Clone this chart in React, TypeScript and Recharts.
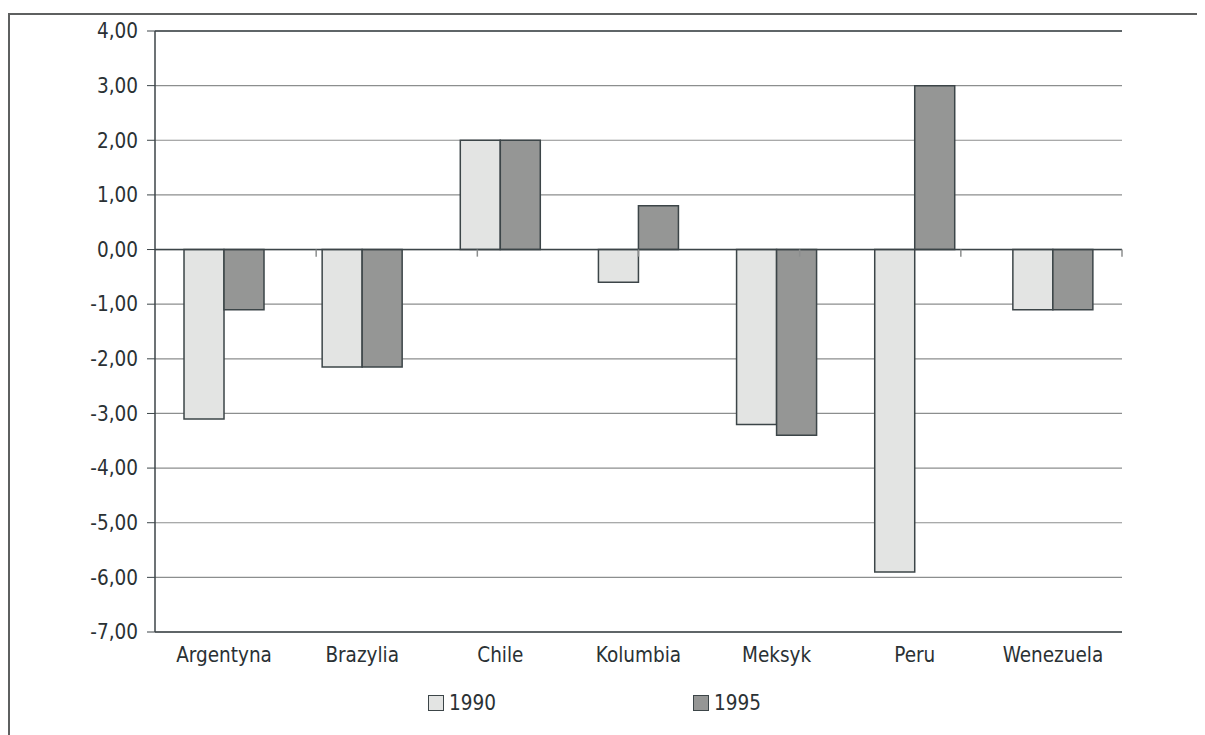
import React from "react"
import {
  BarChart, Bar, XAxis, YAxis, CartesianGrid, ReferenceLine,
} from "recharts"

const countries = ["Argentyna", "Brazylia", "Chile", "Kolumbia", "Meksyk", "Peru", "Wenezuela"]
const values1990 = [-3.1, -2.15, 2.0, -0.6, -3.2, -5.9, -1.1]
const values1995 = [-1.1, -2.15, 2.0, 0.8, -3.4, 3.0, -1.1]
const yTicks = [-7, -6, -5, -4, -3, -2, -1, 0, 1, 2, 3, 4]
const boundaryTicks = [1, 2, 3, 4, 5, 6, 7]

const series = [
  { key: "y1990", name: "1990", color: "#e3e4e3" },
  { key: "y1995", name: "1995", color: "#959695" },
]

const data = countries.map((c, i) => ({
  country: c,
  y1990: values1990[i],
  y1995: values1995[i],
}))

const FONT = "'DejaVu Sans Condensed', 'DejaVu Sans', sans-serif"
const TEXT = "#2a3134"
const DARK = "#3c4548"
const GRID = "#8c8e8e"
const FS = 20.5

function fmt(v: number): string {
  return v.toFixed(2).replace(".", ",")
}

export default function App() {
  return (
    <div style={{ position: "relative", width: 1189, height: 727, fontFamily: FONT }}>
      <style>{"html,body{overflow:hidden}"}</style>
      <div
        style={{
          position: "absolute", left: 0, top: 5, width: 1205, height: 722,
          borderTop: "2px solid #5e6060", borderLeft: "2px solid #5e6060",
          boxSizing: "border-box",
        }}
      />
      <div style={{ position: "absolute", left: 0, top: 0 }}>
        <BarChart
          width={1197}
          height={664}
          data={data}
          margin={{ top: 23, right: 83, left: 0, bottom: 0 }}
          barGap={0}
          barCategoryGap="21%"
        >
          <CartesianGrid vertical={false} stroke={GRID} strokeWidth={1.2} />
          <XAxis
            dataKey="country"
            height={40}
            tickLine={false}
            axisLine={{ stroke: DARK, strokeWidth: 1.5 }}
            tickMargin={9}
            tick={{ fontFamily: FONT, fontSize: FS, fill: TEXT }}
            interval={0}
          />
          <XAxis xAxisId="b" type="number" domain={[0, 7]} hide />
          <YAxis
            width={147}
            domain={[-7, 4]}
            ticks={yTicks}
            interval={0}
            tickFormatter={fmt}
            tickSize={8}
            tickMargin={9}
            tickLine={{ stroke: DARK }}
            axisLine={{ stroke: DARK, strokeWidth: 1.5 }}
            tick={{ fontFamily: FONT, fontSize: FS, fill: TEXT }}
          />
          {series.map((s) => (
            <Bar
              key={s.key}
              dataKey={s.key}
              name={s.name}
              fill={s.color}
              stroke={DARK}
              strokeWidth={1.5}
              isAnimationActive={false}
            />
          ))}
          <ReferenceLine y={0} stroke={DARK} strokeWidth={1.5} />
          <ReferenceLine y={4} stroke={DARK} strokeWidth={1.5} />
          <ReferenceLine xAxisId="b" x={7} stroke={GRID} strokeWidth={1.5} />
          {boundaryTicks.map((t) => (
            <ReferenceLine
              key={t}
              xAxisId="b"
              segment={[{ x: t, y: 0 }, { x: t, y: -0.13 }]}
              stroke={GRID}
              strokeWidth={1.5}
            />
          ))}
        </BarChart>
      </div>
      <div
        style={{
          position: "absolute", top: 683, left: 420,
          display: "flex", gap: 197, fontSize: FS, color: TEXT,
        }}
      >
        {series.map((s) => (
          <div key={s.key} style={{ display: "flex", alignItems: "center" }}>
            <span
              style={{
                display: "inline-block", width: 14, height: 14,
                background: s.color, border: `1.5px solid ${DARK}`, marginRight: 5,
              }}
            />
            <span>{s.name}</span>
          </div>
        ))}
      </div>
    </div>
  )
}
